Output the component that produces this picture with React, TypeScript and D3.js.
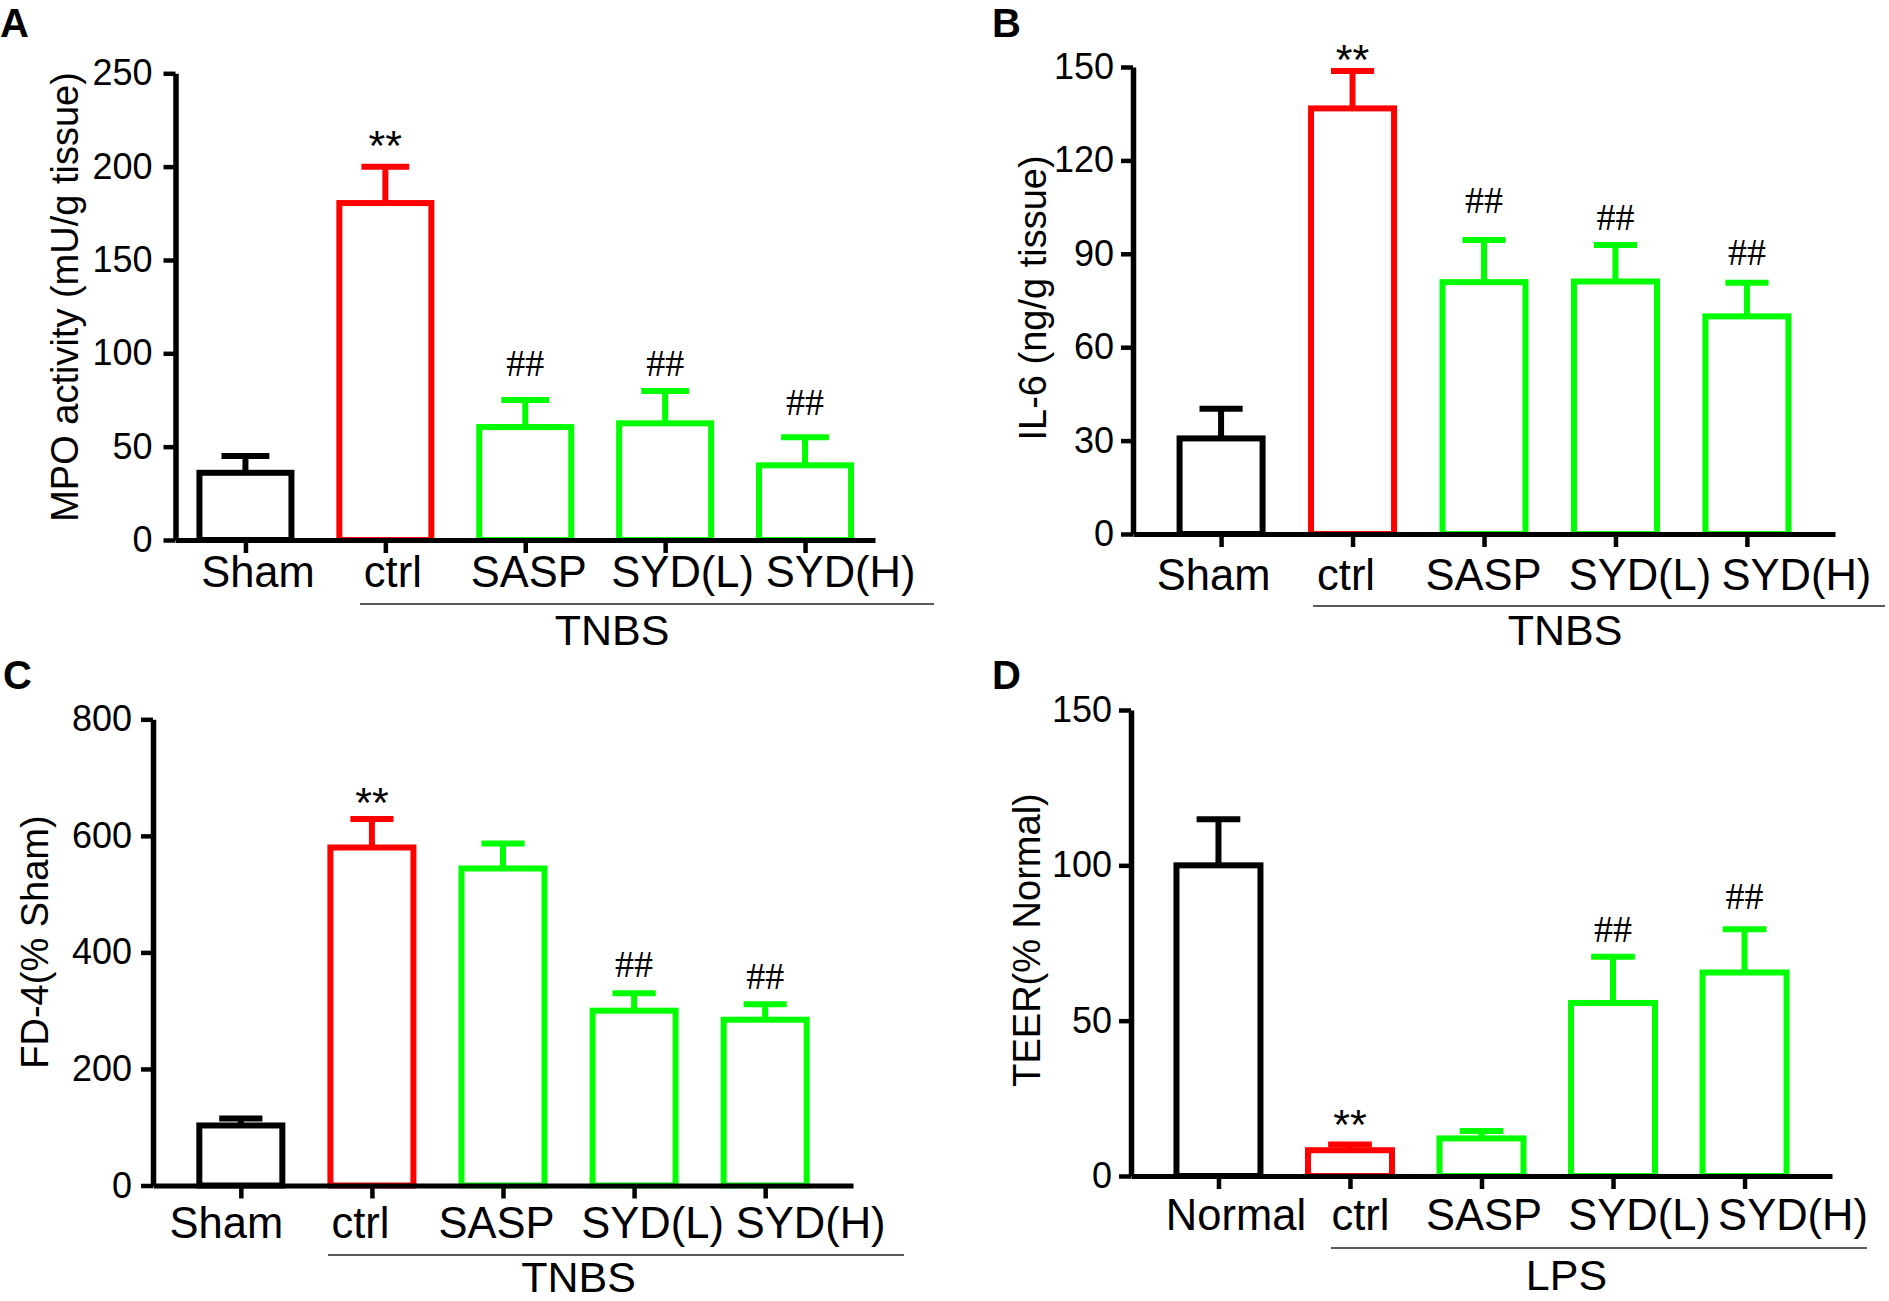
import React, {useRef, useEffect} from 'react'
import * as d3 from 'd3'

// groups on the x axis
const groupsTNBS = ['Sham', 'ctrl', 'SASP', 'SYD(L)', 'SYD(H)']
const groupsLPS = ['Normal', 'ctrl', 'SASP', 'SYD(L)', 'SYD(H)']
const barColors = ['#000000', '#ff0000', '#00ff00', '#00ff00', '#00ff00']

// A: MPO activity
const mpoMean = [36, 180.5, 60.5, 62.5, 40]
const mpoSem = [9, 19.5, 14.5, 17.3, 15]
const mpoMarks = ['', '**', '##', '##', '##']
const mpoTicks = [0, 50, 100, 150, 200, 250]

// B: IL-6
const il6Mean = [30.7, 136.7, 80.9, 81.1, 69.9]
const il6Sem = [9.5, 12, 13.5, 11.7, 10.8]
const il6Marks = ['', '**', '##', '##', '##']
const il6Ticks = [0, 30, 60, 90, 120, 150]

// C: FD-4
const fd4Mean = [103, 580, 544, 300, 284.5]
const fd4Sem = [12, 49, 43, 30, 26.5]
const fd4Marks = ['', '**', '', '##', '##']
const fd4Ticks = [0, 200, 400, 600, 800]

// D: TEER
const teerMean = [100, 8.3, 12.1, 55.7, 65.5]
const teerSem = [14.8, 1.8, 2.4, 14.9, 13.9]
const teerMarks = ['', '**', '', '##', '##']
const teerTicks = [0, 50, 100, 150]

const SANS = '"Liberation Sans", Arial, Helvetica, sans-serif'
const SERIF = '"Liberation Serif", "Times New Roman", serif'

interface PanelProps {
  letter: string
  letterX: number
  letterY: number
  groups: string[]
  mean: number[]
  sem: number[]
  marks: string[]
  markLift: number[]
  labelShift: number[]
  ticks: number[]
  title: string
  titleX: number
  titleY: number
  left: number
  right: number
  top: number
  bottom: number
  pad: number
  barW: number
  labelGap: number
  catBaseline: number
  groupLabel: string
  lineX1: number
  lineX2: number
  lineY: number
  groupX: number
  groupY: number
}

function Panel(p: PanelProps) {
  const ref: any = useRef<SVGGElement>(null)

  useEffect(() => {
    const g = d3.select(ref.current)
    g.selectAll('*').remove()

    const x: any = d3.scalePoint().domain(p.groups).range([p.left, p.right]).padding(p.pad)
    const y = d3
      .scaleLinear()
      .domain([0, p.ticks[p.ticks.length - 1]])
      .range([p.bottom, p.top])

    const data = p.groups.map((name, i) => ({
      name,
      mean: p.mean[i],
      sem: p.sem[i],
      mark: p.marks[i],
      lift: p.markLift[i],
      color: barColors[i],
    }))

    // bars (open, white filled)
    g.selectAll('rect.bar')
      .data(data)
      .enter()
      .append('rect')
      .attr('class', 'bar')
      .attr('x', (d: any) => x(d.name) - p.barW / 2)
      .attr('y', (d: any) => y(d.mean))
      .attr('width', p.barW)
      .attr('height', (d: any) => y(0) - y(d.mean))
      .attr('fill', '#fff')
      .attr('stroke', (d: any) => d.color)
      .attr('stroke-width', 6)

    // error bars, upper only
    g.selectAll('line.err')
      .data(data)
      .enter()
      .append('line')
      .attr('class', 'err')
      .attr('x1', (d: any) => x(d.name))
      .attr('x2', (d: any) => x(d.name))
      .attr('y1', (d: any) => y(d.mean))
      .attr('y2', (d: any) => y(d.mean + d.sem))
      .attr('stroke', (d: any) => d.color)
      .attr('stroke-width', 6)

    const capHalf = p.barW * 0.26
    g.selectAll('line.cap')
      .data(data)
      .enter()
      .append('line')
      .attr('class', 'cap')
      .attr('x1', (d: any) => x(d.name) - capHalf)
      .attr('x2', (d: any) => x(d.name) + capHalf)
      .attr('y1', (d: any) => y(d.mean + d.sem))
      .attr('y2', (d: any) => y(d.mean + d.sem))
      .attr('stroke', (d: any) => d.color)
      .attr('stroke-width', 6)

    // significance marks
    g.selectAll('text.mark')
      .data(data.filter(d => d.mark))
      .enter()
      .append('text')
      .attr('class', 'mark')
      .attr('x', (d: any) => x(d.name))
      .attr('y', (d: any) => (d.mark === '**' ? y(d.mean + d.sem) : y(d.mean + d.sem) - 15) - d.lift)
      .attr('text-anchor', 'middle')
      .style('font-family', (d: any) => (d.mark === '**' ? SANS : SERIF))
      .style('font-size', (d: any) => (d.mark === '**' ? '43px' : '38px'))
      .text((d: any) => d.mark)

    // y axis
    const yAxis = g
      .append('g')
      .attr('transform', `translate(${p.left},0)`)
      .call(
        d3
          .axisLeft(y)
          .tickValues(p.ticks)
          .tickSize(12)
          .tickSizeOuter(0)
          .tickPadding(p.labelGap - 12)
          .tickFormat(d3.format('d')) as any,
      )
    yAxis.select('.domain').attr('stroke', '#000').attr('stroke-width', 5.5)
    yAxis.selectAll('.tick line').attr('stroke', '#000').attr('stroke-width', 4.5)
    yAxis
      .selectAll('.tick text')
      .attr('fill', '#000')
      .style('font-family', SANS)
      .style('font-size', '36px')

    // x axis
    const xAxis = g
      .append('g')
      .attr('transform', `translate(0,${p.bottom})`)
      .call(d3.axisBottom(x).tickSize(13).tickSizeOuter(0) as any)
    xAxis.select('.domain').attr('stroke', '#000').attr('stroke-width', 5)
    xAxis.selectAll('.tick line').attr('stroke', '#000').attr('stroke-width', 4.5)
    xAxis
      .selectAll('.tick text')
      .attr('fill', '#000')
      .attr('x', (_d: any, i: number) => p.labelShift[i])
      .attr('y', p.catBaseline - p.bottom)
      .attr('dy', null)
      .style('font-family', SANS)
      .style('font-size', '43.5px')

    // group bracket
    g.append('line')
      .attr('x1', p.lineX1)
      .attr('x2', p.lineX2)
      .attr('y1', p.lineY)
      .attr('y2', p.lineY)
      .attr('stroke', '#222')
      .attr('stroke-width', 1.6)
    g.append('text')
      .attr('x', p.groupX)
      .attr('y', p.groupY)
      .attr('text-anchor', 'middle')
      .style('font-family', SANS)
      .style('font-size', '43px')
      .text(p.groupLabel)

    // y title
    g.append('text')
      .attr('transform', `translate(${p.titleX},${p.titleY}) rotate(-90)`)
      .attr('text-anchor', 'middle')
      .attr('dy', '0.36em')
      .style('font-family', SANS)
      .style('font-size', '38px')
      .text(p.title)

    // panel letter
    g.append('text')
      .attr('x', p.letterX)
      .attr('y', p.letterY)
      .style('font-family', SANS)
      .style('font-weight', 'bold')
      .style('font-size', '40px')
      .text(p.letter)
  }, [p])

  return <g ref={ref} />
}

export default function App() {
  return (
    <svg
      width={1889}
      height={1301}
      style={{position: 'absolute', left: 0, top: 0, display: 'block', background: '#fff'}}>
      <rect x={0} y={0} width={1889} height={1301} fill="#fff" />
      <Panel
        letter="A" letterX={0} letterY={37}
        groups={groupsTNBS} mean={mpoMean} sem={mpoSem} marks={mpoMarks} ticks={mpoTicks}
        markLift={[0, 7, 9, 0, 7]} labelShift={[12, 7, 3, 17, 35]}
        title="MPO activity (mU/g tissue)" titleX={64} titleY={297}
        left={175.5} right={875} top={73.3} bottom={540} pad={0.5} barW={92}
        labelGap={23} catBaseline={587}
        groupLabel="TNBS" lineX1={360} lineX2={934} lineY={604} groupX={612} groupY={645}
      />
      <Panel
        letter="B" letterX={992} letterY={37}
        groups={groupsTNBS} mean={il6Mean} sem={il6Sem} marks={il6Marks} ticks={il6Ticks}
        markLift={[0, -3, 12, 0, 3]} labelShift={[-8, -7, -1, 24, 49]}
        title="IL-6 (ng/g tissue)" titleX={1032} titleY={298}
        left={1133} right={1835} top={67} bottom={534} pad={0.67} barW={83}
        labelGap={19} catBaseline={590}
        groupLabel="TNBS" lineX1={1313} lineX2={1885} lineY={606} groupX={1565} groupY={644.5}
      />
      <Panel
        letter="C" letterX={3} letterY={689}
        groups={groupsTNBS} mean={fd4Mean} sem={fd4Sem} marks={fd4Marks} ticks={fd4Ticks}
        markLift={[0, 2, 0, 1, 0]} labelShift={[-15, -12, -7, 18, 45]}
        title="FD-4(% Sham)" titleX={34} titleY={942}
        left={153} right={853} top={719.3} bottom={1185.5} pad={0.67} barW={83}
        labelGap={21} catBaseline={1237.5}
        groupLabel="TNBS" lineX1={328} lineX2={904} lineY={1255} groupX={578.6} groupY={1291.5}
      />
      <Panel
        letter="D" letterX={992} letterY={689}
        groups={groupsLPS} mean={teerMean} sem={teerSem} marks={teerMarks} ticks={teerTicks}
        markLift={[0, 6, 0, 0, 5]} labelShift={[17, 10, 2, 26, 48]}
        title="TEER(% Normal)" titleX={1026} titleY={940}
        left={1131} right={1832} top={710} bottom={1176} pad={0.665} barW={84}
        labelGap={19} catBaseline={1230}
        groupLabel="LPS" lineX1={1331} lineX2={1867} lineY={1248} groupX={1566.5} groupY={1290}
      />
    </svg>
  )
}
